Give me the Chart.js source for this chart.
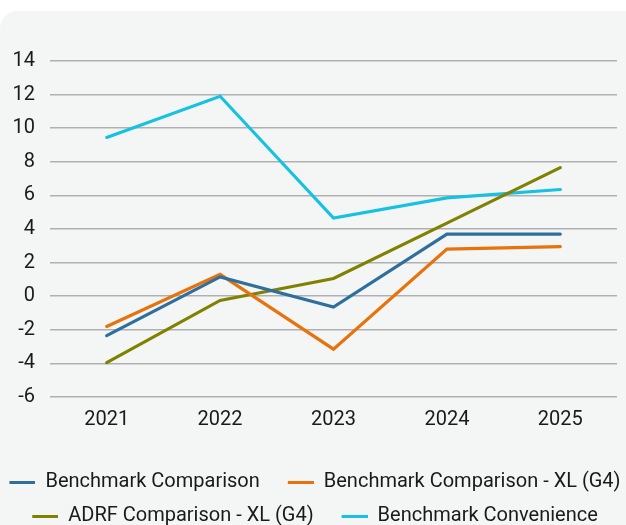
<!DOCTYPE html>
<html>
<head>
<meta charset="utf-8">
<script src="https://cdn.jsdelivr.net/npm/chart.js@4"></script>
<style>
  html, body { margin: 0; padding: 0; background: #ffffff; overflow: hidden; width: 626px; height: 525px; }
  #panel { position: absolute; left: 0; top: 11px; width: 660px; height: 540px; background: #f4f6f5; border-radius: 18px; overflow: hidden; }
  #c { position: absolute; left: -42px; top: 0; }
</style>
</head>
<body>
<div id="panel"><canvas id="c" width="700" height="530"></canvas></div>
<script>
const years = ["2021", "2022", "2023", "2024", "2025"];
const benchmarkComparison = [-2.35, 1.15, -0.65, 3.7, 3.7];
const benchmarkComparisonXL = [-1.8, 1.3, -3.15, 2.8, 2.95];
const adrfComparisonXL = [-3.95, -0.25, 1.05, 4.35, 7.65];
const benchmarkConvenience = [9.45, 11.9, 4.65, 5.85, 6.35];
const seriesNames = ["Benchmark Comparison", "Benchmark Comparison - XL (G4)", "ADRF Comparison - XL (G4)", "Benchmark Convenience"];
const seriesColors = ["#2e6f9e", "#e8720c", "#7f8200", "#17c1e1"];
const yMin = -6, yMax = 14, yStep = 2;

const seriesData = [benchmarkComparison, benchmarkComparisonXL, adrfComparisonXL, benchmarkConvenience];
const datasets = seriesData.map((d, i) => ({
  label: seriesNames[i],
  data: d,
  borderColor: seriesColors[i],
  backgroundColor: seriesColors[i],
  borderWidth: 3.2,
  borderCapStyle: 'round',
  pointRadius: 0,
  pointHoverRadius: 0,
  tension: 0,
  fill: false
}));

// legend marker: a short line with leading space (extra gap between legend items)
function legendMarker(color) {
  const c = document.createElement('canvas');
  c.width = 40; c.height = 3;
  const g = c.getContext('2d');
  g.fillStyle = color;
  g.fillRect(14, 0, 26, 3);
  return c;
}
const markers = seriesColors.map(legendMarker);

const FONT = "Roboto, 'Noto Sans', sans-serif";

new Chart(document.getElementById('c'), {
  type: 'line',
  data: { labels: years, datasets },
  options: {
    responsive: false,
    animation: false,
    layout: { padding: { top: 50, right: 0, bottom: 5, left: 0 } },
    plugins: {
      tooltip: { enabled: false },
      legend: {
        position: 'bottom',
        align: 'center',
        labels: {
          usePointStyle: true,
          pointStyleWidth: 40,
          boxHeight: 3,
          padding: 14,
          color: '#1a1a1a',
          font: { family: FONT, size: 20 },
          generateLabels: (chart) => {
            const items = Chart.defaults.plugins.legend.labels.generateLabels(chart);
            items.forEach((it) => { it.pointStyle = markers[it.datasetIndex]; it.lineWidth = 0; });
            return items;
          }
        }
      }
    },
    scales: {
      x: {
        offset: true,
        grid: { display: false, drawTicks: false },
        border: { display: false },
        ticks: { color: '#1a1a1a', padding: 11, font: { family: FONT, size: 20 } },
        afterFit: (s) => { s.height += 15; }
      },
      y: {
        min: yMin,
        max: yMax,
        grid: { color: '#b0b0b0', lineWidth: 1.5, drawTicks: false },
        border: { display: false },
        ticks: { stepSize: yStep, color: '#1a1a1a', padding: 15, font: { family: FONT, size: 20 } },
        afterFit: (s) => { s.width = 92; }
      },
      y2: {
        position: 'right',
        min: yMin,
        max: yMax,
        grid: { display: false, drawTicks: false },
        border: { display: false },
        ticks: { display: false },
        afterFit: (s) => { s.width = 41; }
      }
    }
  }
});
</script>
</body>
</html>
